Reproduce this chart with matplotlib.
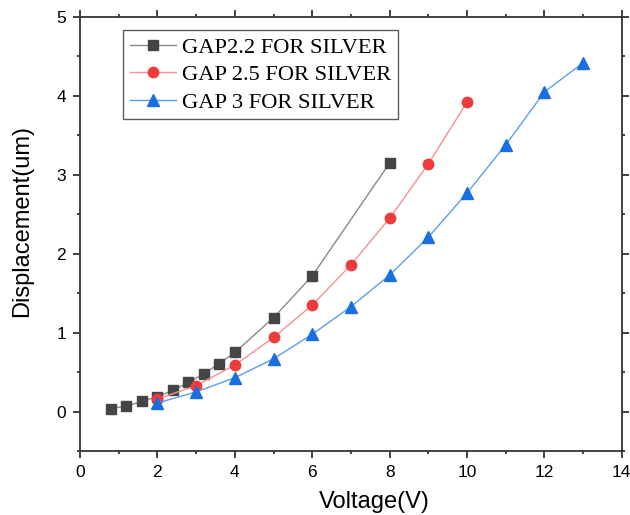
import matplotlib.pyplot as plt
from matplotlib.ticker import MultipleLocator

# Data
v_22 = [0.8, 1.2, 1.6, 2.0, 2.4, 2.8, 3.2, 3.6, 4.0, 5, 6, 8]
d_22 = [0.04, 0.07, 0.13, 0.19, 0.27, 0.37, 0.48, 0.61, 0.75, 1.19, 1.72, 3.15]

v_25 = [2, 3, 4, 5, 6, 7, 8, 9, 10]
d_25 = [0.16, 0.33, 0.59, 0.94, 1.35, 1.86, 2.45, 3.14, 3.92]

v_3 = [2, 3, 4, 5, 6, 7, 8, 9, 10, 11, 12, 13]
d_3 = [0.11, 0.25, 0.43, 0.67, 0.98, 1.33, 1.73, 2.21, 2.77, 3.38, 4.05, 4.42]

labels = ['GAP2.2 FOR SILVER', 'GAP 2.5 FOR SILVER', 'GAP 3 FOR SILVER']

plt.rcParams['font.family'] = 'Liberation Sans'

fig = plt.figure(figsize=(6.3, 5.15), dpi=100)
ax = fig.add_axes([0.127, 0.124, 0.86, 0.843])

ax.plot(v_22, d_22, color='#8a8a8a', lw=1, marker='s', ms=6.5,
        mfc='#454545', mec='#454545', label=labels[0])
ax.plot(v_25, d_25, color='#f59090', lw=1, marker='o', ms=7.5,
        mfc='#ef3b3b', mec='#ef3b3b', label=labels[1])
ax.plot(v_3, d_3, color='#5b9ef0', lw=1, marker='^', ms=8,
        mfc='#1a6fe0', mec='#1a6fe0', label=labels[2])

ax.set_xlim(0, 14)
ax.set_ylim(-0.5, 5)
ax.xaxis.set_major_locator(MultipleLocator(2))
ax.xaxis.set_minor_locator(MultipleLocator(1))
ax.yaxis.set_major_locator(MultipleLocator(1))
ax.yaxis.set_minor_locator(MultipleLocator(0.5))
ax.tick_params(which='both', direction='out', top=True, right=True,
               labelsize=12.5, color='#333333', pad=5)
ax.tick_params(which='major', length=5, width=1.3)
ax.tick_params(which='minor', length=2.5, width=1.3)
for s in ax.spines.values():
    s.set_linewidth(1.3)
    s.set_color('#333333')

ax.set_xlabel('Voltage(V)', fontsize=17)
ax.set_ylabel('Displacement(um)', fontsize=17)
ax.xaxis.set_label_coords(0.544, -0.092)
ax.yaxis.set_label_coords(-0.087, 0.53)

leg = ax.legend(loc='upper left', bbox_to_anchor=(0.079, 0.97),
                borderaxespad=0,
                prop={'family': 'Liberation Serif', 'size': 16.2},
                frameon=True, fancybox=False, edgecolor='#333333',
                handlelength=2.05, borderpad=0.3, labelspacing=0.3,
                handletextpad=0.3)
leg.get_frame().set_linewidth(1)

fig.savefig('out.png', dpi=100)
